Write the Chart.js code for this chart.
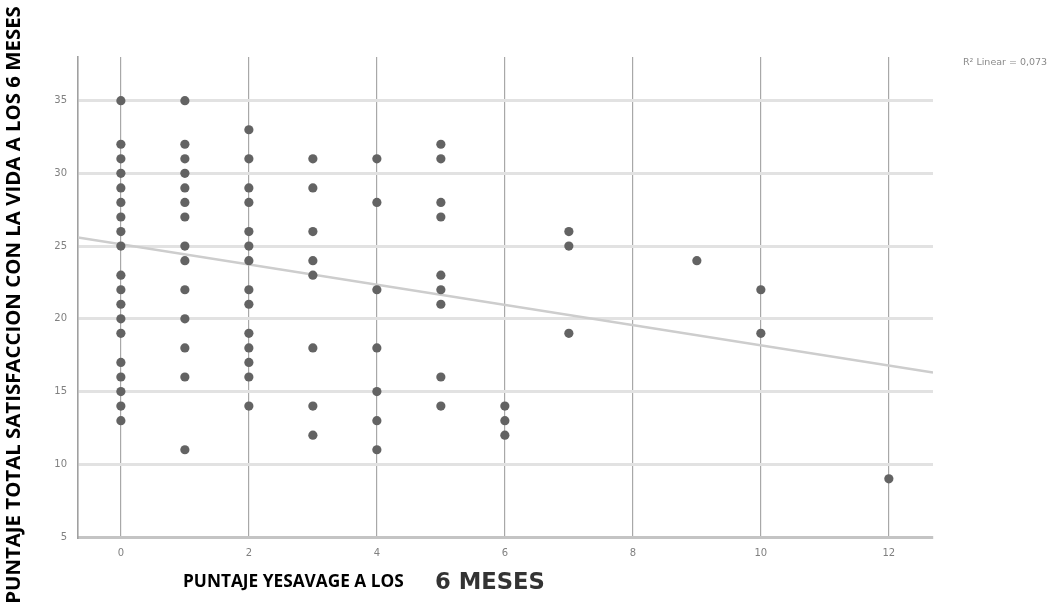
<!DOCTYPE html>
<html>
<head>
<meta charset="utf-8">
<script src="https://cdn.jsdelivr.net/npm/chart.js@4/dist/chart.umd.min.js"></script>
<style>
html,body{margin:0;padding:0;background:#fff;}
#wrap{width:1063px;height:609px;position:relative;}
</style>
</head>
<body>
<div id="wrap"><canvas id="c" width="1063" height="609"></canvas></div>
<script>
// ---- data ----
const xValues = [
  0,0,0,0,0,0,0,0,0,0,0,0,0,0,0,0,0,0,0,
  1,1,1,1,1,1,1,1,1,1,1,1,1,1,
  2,2,2,2,2,2,2,2,2,2,2,2,2,2,
  3,3,3,3,3,3,3,3,
  4,4,4,4,4,4,4,
  5,5,5,5,5,5,5,5,5,
  6,6,6,
  7,7,7,
  9,
  10,10,
  12
];
const yValues = [
  35,32,31,30,29,28,27,26,25,23,22,21,20,19,17,16,15,14,13,
  35,32,31,30,29,28,27,25,24,22,20,18,16,11,
  33,31,29,28,26,25,24,22,21,19,18,17,16,14,
  31,29,26,24,23,18,14,12,
  31,28,22,18,15,13,11,
  32,31,28,27,23,22,21,16,14,
  14,13,12,
  26,25,19,
  24,
  22,19,
  9
];
const fitX = [-0.67, 12.69];
const fitY = [25.6, 16.3];
const xTicks = [0,2,4,6,8,10,12];
const yTicks = [5,10,15,20,25,30,35];
const yTitle = "PUNTAJE TOTAL SATISFACCION CON LA VIDA A LOS 6 MESES";
const xTitleA = "PUNTAJE YESAVAGE A LOS";
const xTitleB = "6 MESES";
const fitLabel = "R\u00B2 Linear = 0,073";

const points = xValues.map((x,i)=>({x:x,y:yValues[i]}));
const fitLine = fitX.map((x,i)=>({x:x,y:fitY[i]}));

function fitFont(ctx, text, weight, family, targetW){
  let size = 20;
  ctx.font = weight+" "+size+"px "+family;
  const w = ctx.measureText(text).width;
  size = size*targetW/w;
  return weight+" "+size.toFixed(2)+"px "+family;
}

const titlesPlugin = {
  id:'titles',
  afterDraw(chart){
    const ctx = chart.ctx;
    ctx.save();
    // y title (rotated)
    ctx.translate(14, 305);
    ctx.rotate(-Math.PI/2);
    ctx.font = fitFont(ctx, yTitle, "bold", "'Open Sans'", 598);
    ctx.fillStyle = "#000";
    ctx.textAlign = "center";
    ctx.textBaseline = "middle";
    ctx.fillText(yTitle, 0, 0);
    ctx.restore();

    ctx.save();
    ctx.textBaseline = "alphabetic";
    ctx.textAlign = "left";
    ctx.fillStyle = "#000";
    ctx.font = fitFont(ctx, xTitleA, "bold", "'Open Sans'", 221);
    ctx.fillText(xTitleA, 183, 587);
    ctx.fillStyle = "#333";
    ctx.font = fitFont(ctx, xTitleB, "bold", "'DejaVu Sans'", 110);
    ctx.fillText(xTitleB, 435, 589);
    // R2 label
    ctx.fillStyle = "#8a8a8a";
    ctx.font = "9.5px 'DejaVu Sans'";
    ctx.fillText(fitLabel, 963, 65);
    ctx.restore();
  }
};

new Chart(document.getElementById('c'), {
  type:'scatter',
  data:{
    datasets:[
      {
        type:'scatter',
        data:points,
        backgroundColor:'#636363',
        borderColor:'#636363',
        pointRadius:4.6,
        pointHoverRadius:4.6,
        borderWidth:0
      },
      {
        type:'line',
        data:fitLine,
        borderColor:'#cdcdcd',
        borderWidth:2.5,
        pointRadius:0,
        fill:false,
        tension:0
      }
    ]
  },
  options:{
    responsive:false,
    animation:false,
    events:[],
    layout:{padding:{left:0,right:130,top:57,bottom:0}},
    plugins:{legend:{display:false},tooltip:{enabled:false},title:{display:false}},
    scales:{
      x:{
        type:'linear',
        min:-0.67, max:12.69,
        afterBuildTicks(scale){ scale.ticks = xTicks.map(v=>({value:v})); },
        afterFit(scale){ scale.height = 72; },
        grid:{color:'#a8a8a8', lineWidth:1.2, drawTicks:false},
        border:{color:'#c4c4c4', width:3},
        ticks:{color:'#808080', font:{family:"'DejaVu Sans'", size:10}, padding:10}
      },
      y:{
        type:'linear',
        min:5, max:38,
        afterBuildTicks(scale){ scale.ticks = yTicks.map(v=>({value:v})); },
        afterFit(scale){ scale.width = 78; },
        grid:{color:'#e2e2e2', lineWidth:3, drawTicks:false},
        border:{color:'#a0a0a0', width:1.6},
        ticks:{color:'#808080', font:{family:"'DejaVu Sans'", size:10}, padding:11}
      }
    }
  },
  plugins:[titlesPlugin]
});
</script>
</body>
</html>
